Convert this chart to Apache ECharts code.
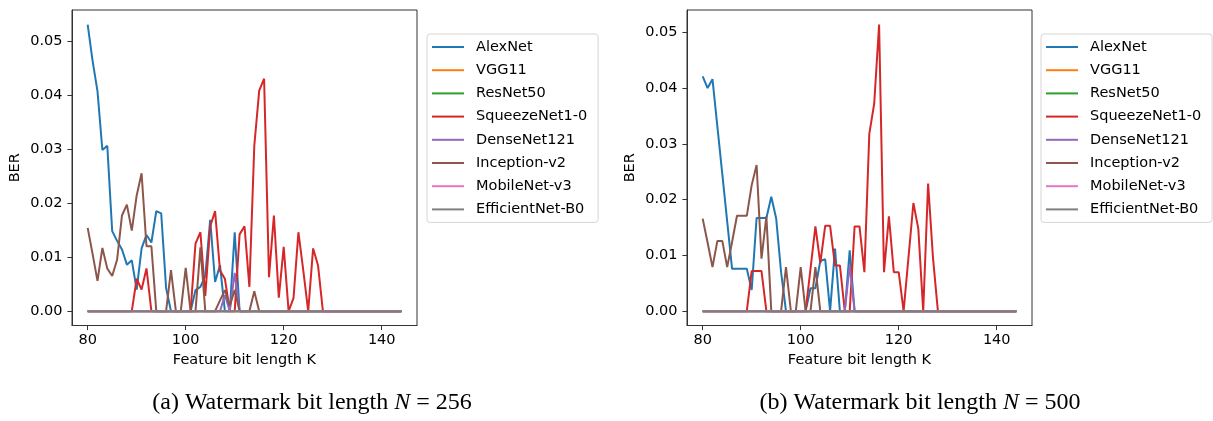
<!DOCTYPE html>
<html>
<head>
<meta charset="utf-8">
<script src="https://cdn.jsdelivr.net/npm/echarts@6/dist/echarts.min.js"></script>
<style>
html,body{margin:0;padding:0;background:#fff;}
#c{width:1213px;height:421px;}
</style>
</head>
<body>
<div id="c"></div>
<script>
// Feature bit length K (x values)
const K = [80,81,82,83,84,85,86,87,88,89,90,91,92,93,94,95,96,97,98,99,
  100,101,102,103,104,105,106,107,108,109,110,111,112,113,114,115,116,117,118,119,
  120,121,122,123,124,125,126,127,128,129,130,131,132,133,134,135,136,137,138,139,
  140,141,142,143,144];

const seriesNames = ['AlexNet','VGG11','ResNet50','SqueezeNet1-0','DenseNet121','Inception-v2','MobileNet-v3','EfficientNet-B0'];

const xTicks = [80,100,120,140];
const yTicks = [0,0.01,0.02,0.03,0.04,0.05];

const captionA = ['(a) Watermark bit length ', 'N', ' = 256'];
const captionB = ['(b) Watermark bit length ', 'N', ' = 500'];

const zeros = [0,0,0,0,0,0,0,0,0,0, 0,0,0,0,0,0,0,0,0,0, 0,0,0,0,0,0,0,0,0,0,
  0,0,0,0,0,0,0,0,0,0, 0,0,0,0,0,0,0,0,0,0, 0,0,0,0,0,0,0,0,0,0, 0,0,0,0,0];

// ---- (a) N = 256 ----
const a_AlexNet = [
  0.0530,0.0463,0.0407,0.0298,0.0306,0.0148,0.0130,0.0114,0.0086,0.0094,
  0.0040,0.0116,0.0141,0.0127,0.0185,0.0181,0.0043,0,0,0,
  0,0,0.0039,0.0045,0.0065,0.0169,0.0054,0.0085,0,0,
  0.0146,0,0,0,0,0,0,0,0,0,
  0,0,0,0,0,0,0,0,0,0,
  0,0,0,0,0,0,0,0,0,0,
  0,0,0,0,0];
const a_VGG11 = zeros;
const a_ResNet50 = zeros;
const a_SqueezeNet = [
  0,0,0,0,0,0,0,0,0,0,
  0.0060,0.0040,0.0079,0,0,0,0,0,0,0,
  0,0,0.0125,0.0146,0.0028,0.0157,0.0185,0.0075,0.0060,0,
  0,0.0142,0.0157,0.0045,0.0306,0.0408,0.0430,0.0063,0.0177,0.0025,
  0.0119,0,0.0024,0.0146,0.0075,0,0.0116,0.0085,0,0,
  0,0,0,0,0,0,0,0,0,0,
  0,0,0,0,0];
const a_DenseNet = [
  0,0,0,0,0,0,0,0,0,0,
  0,0,0,0,0,0,0,0,0,0,
  0,0,0,0,0,0,0,0,0.0030,0,
  0.0071,0,0,0,0,0,0,0,0,0,
  0,0,0,0,0,0,0,0,0,0,
  0,0,0,0,0,0,0,0,0,0,
  0,0,0,0,0];
const a_Inception = [
  0.0154,0.0106,0.0056,0.0117,0.0079,0.0065,0.0095,0.0177,0.0197,0.0149,
  0.0214,0.0255,0.0120,0.0120,0,0,0,0.0076,0,0,
  0.0080,0,0,0.0118,0,0,0,0.0020,0.0039,0.0010,
  0.0039,0,0,0,0.0037,0,0,0,0,0,
  0,0,0,0,0,0,0,0,0,0,
  0,0,0,0,0,0,0,0,0,0,
  0,0,0,0,0];
const a_MobileNet = zeros;
const a_EfficientNet = zeros;

// ---- (b) N = 500 ----
const b_AlexNet = [
  0.0421,0.0400,0.0416,0.0331,0.0246,0.0161,0.0076,0.0076,0.0076,0.0076,
  0.0038,0.0167,0.0167,0.0167,0.0205,0.0166,0.0070,0,0,0,
  0,0,0.0041,0.0041,0.0090,0.0093,0,0.0112,0,0,
  0.0109,0,0,0,0,0,0,0,0,0,
  0,0,0,0,0,0,0,0,0,0,
  0,0,0,0,0,0,0,0,0,0,
  0,0,0,0,0];
const b_VGG11 = zeros;
const b_ResNet50 = zeros;
const b_SqueezeNet = [
  0,0,0,0,0,0,0,0,0,0,
  0.0072,0.0072,0.0072,0,0,0,0,0,0,0,
  0,0,0.0076,0.0152,0.0086,0.0153,0.0153,0.0082,0.0082,0,
  0,0.0152,0.0152,0.0070,0.0318,0.0372,0.0514,0.0070,0.0170,0.0070,
  0.0070,0,0.0097,0.0194,0.0148,0,0.0229,0.0095,0,0,
  0,0,0,0,0,0,0,0,0,0,
  0,0,0,0,0];
const b_DenseNet = [
  0,0,0,0,0,0,0,0,0,0,
  0,0,0,0,0,0,0,0,0,0,
  0,0,0,0,0,0,0,0,0,0,
  0.0082,0,0,0,0,0,0,0,0,0,
  0,0,0,0,0,0,0,0,0,0,
  0,0,0,0,0,0,0,0,0,0,
  0,0,0,0,0];
const b_Inception = [
  0.0166,0.0123,0.0079,0.0126,0.0126,0.0079,0.0124,0.0171,0.0171,0.0171,
  0.0226,0.0262,0.0094,0.0170,0,0,0,0.0079,0,0,
  0.0079,0,0,0.0079,0,0,0,0,0,0,
  0,0,0,0,0,0,0,0,0,0,
  0,0,0,0,0,0,0,0,0,0,
  0,0,0,0,0,0,0,0,0,0,
  0,0,0,0,0];
const b_MobileNet = zeros;
const b_EfficientNet = zeros;

const aData = [a_AlexNet,a_VGG11,a_ResNet50,a_SqueezeNet,a_DenseNet,a_Inception,a_MobileNet,a_EfficientNet];
const bData = [b_AlexNet,b_VGG11,b_ResNet50,b_SqueezeNet,b_DenseNet,b_Inception,b_MobileNet,b_EfficientNet];
const colors = ['#1f77b4','#ff7f0e','#2ca02c','#d62728','#9467bd','#8c564b','#e377c2','#7f7f7f'];

const FONT = 'DejaVu Sans';
const FS = 14.5;
const SPINE = '#333';

function pairs(vals){ return K.map((k,i)=>[k, vals[i]]); }

function makeX(gridIndex){
  return {
    type:'value', gridIndex, min:76.8, max:147.2,
    name:'Feature bit length K', nameLocation:'middle', nameGap:26,
    nameTextStyle:{fontFamily:FONT, fontSize:FS, color:'#000'},
    axisLine:{show:true, onZero:false, lineStyle:{color:SPINE, width:1}},
    axisTick:{show:true, inside:false, length:4.6, lineStyle:{color:SPINE, width:1}, customValues:xTicks},
    axisLabel:{show:true, margin:7, fontFamily:FONT, fontSize:FS, color:'#000', customValues:xTicks, formatter:v=>String(v)},
    splitLine:{show:false}
  };
}
function makeY(gridIndex, min, max){
  return {
    type:'value', gridIndex, min, max,
    name:'BER', nameLocation:'middle', nameGap:49, nameRotate:90,
    nameTextStyle:{fontFamily:FONT, fontSize:FS, color:'#000'},
    axisLine:{show:true, onZero:false, lineStyle:{color:SPINE, width:1}},
    axisTick:{show:true, inside:false, length:4.6, lineStyle:{color:SPINE, width:1}, customValues:yTicks},
    axisLabel:{show:true, margin:9.5, fontFamily:FONT, fontSize:FS, color:'#000', customValues:yTicks, formatter:v=>v.toFixed(2)},
    splitLine:{show:false}
  };
}
function makeLegend(left){
  return {
    orient:'vertical', left, top:34,
    data:seriesNames,
    icon:'rect', itemWidth:32, itemHeight:2, itemGap:7.2,
    padding:[5,11,5,5],
    backgroundColor:'#fff', borderColor:'#d6d6d6', borderWidth:1, borderRadius:3,
    textStyle:{fontFamily:FONT, fontSize:FS, color:'#000', padding:[0,0,0,7], lineHeight:16},
    selectedMode:false
  };
}

const series = [];
seriesNames.forEach((n,i)=>{
  series.push({name:n, type:'line', xAxisIndex:0, yAxisIndex:0, data:pairs(aData[i]),
    showSymbol:false, symbol:'none', lineStyle:{width:2, color:colors[i]}, itemStyle:{color:colors[i]}, z:2+i*0.01, silent:true});
});
seriesNames.forEach((n,i)=>{
  series.push({name:n, type:'line', xAxisIndex:1, yAxisIndex:1, data:pairs(bData[i]),
    showSymbol:false, symbol:'none', lineStyle:{width:2, color:colors[i]}, itemStyle:{color:colors[i]}, z:2+i*0.01, silent:true});
});

function caption(parts, x){
  return {type:'text', x, y:403, style:{
    text:'{r|'+parts[0]+'}{i|'+parts[1]+'}{r|'+parts[2]+'}',
    align:'center', verticalAlign:'middle',
    rich:{
      r:{fontFamily:'Liberation Serif', fontSize:24, fill:'#000'},
      i:{fontFamily:'Liberation Serif', fontSize:24, fontStyle:'italic', fill:'#000'}
    }
  }};
}

const chart = echarts.init(document.getElementById('c'), null, {renderer:'canvas'});
chart.setOption({
  animation:false,
  backgroundColor:'#fff',
  color:colors,
  grid:[
    {left:72, top:10, width:345, height:315.5, show:true, borderColor:SPINE, borderWidth:1, backgroundColor:'transparent', containLabel:false},
    {left:687, top:10, width:345, height:315.5, show:true, borderColor:SPINE, borderWidth:1, backgroundColor:'transparent', containLabel:false}
  ],
  xAxis:[makeX(0), makeX(1)],
  yAxis:[makeY(0,-0.00265,0.0557), makeY(1,-0.00257,0.0540)],
  legend:[makeLegend(427), makeLegend(1041)],
  series,
  graphic:[caption(captionA,312), caption(captionB,920)]
});
</script>
</body>
</html>
